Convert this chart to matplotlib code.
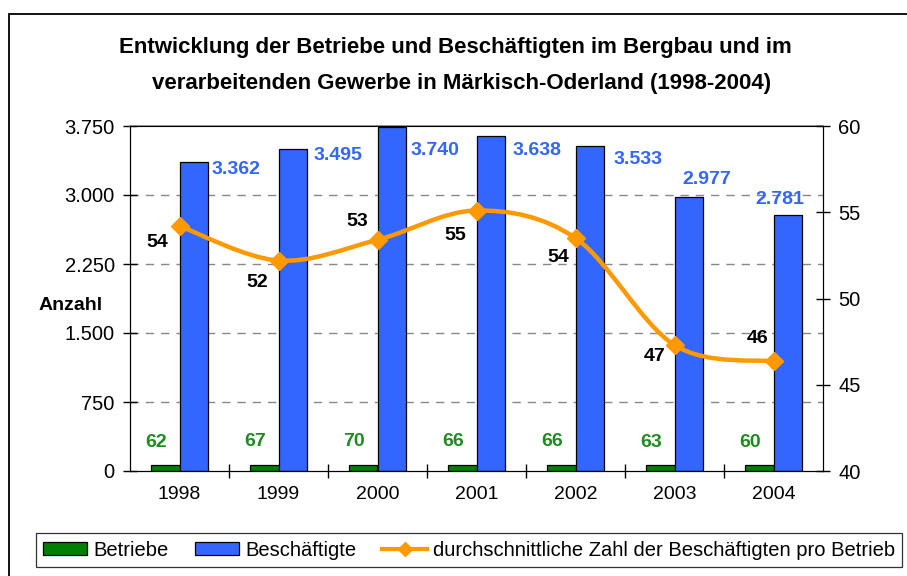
import matplotlib.pyplot as plt
from matplotlib.path import Path
from matplotlib.patches import PathPatch, Rectangle
from matplotlib.lines import Line2D
from matplotlib.ticker import FuncFormatter

years = ["1998", "1999", "2000", "2001", "2002", "2003", "2004"]
betriebe = [62, 67, 70, 66, 66, 63, 60]
beschaeftigte = [3362, 3495, 3740, 3638, 3533, 2977, 2781]
schnitt = [54.2, 52.2, 53.4, 55.1, 53.5, 47.3, 46.35]
schnitt_labels = ["54", "52", "53", "55", "54", "47", "46"]

# label offsets in pixels (layout only)
blue_off = [(28, -8), (31, -6), (29, -24), (32, -14), (34, -14), (4, 18), (-22, 16)]
black_off = [(-22, -16), (-21, -22), (-20, 18), (-21, -25), (-17, -19), (-20, -11), (-16, 23)]

plt.rcParams["font.family"] = ["Liberation Sans", "DejaVu Sans"]
BLUE = "#3366FF"
GREEN = "#008000"
ORANGE = "#FF9900"

fig = plt.figure(figsize=(9.07, 5.76), dpi=100)
fig.patches.append(Rectangle((9 / 907, -0.1), 1.2, 1.1 - 14 / 576, transform=fig.transFigure,
                             fill=False, edgecolor="black", linewidth=1.3))

ax = fig.add_axes([130 / 907, 1 - 471 / 576, 693 / 907, 345 / 576])
x = list(range(len(years)))
w = 0.29
ax.bar([i - w / 2 for i in x], betriebe, width=w, color=GREEN, edgecolor="black", linewidth=0.9, zorder=2)
ax.bar([i + w / 2 for i in x], beschaeftigte, width=w, color=BLUE, edgecolor="black", linewidth=0.9, zorder=2)
ax.set_xlim(-0.5, len(years) - 0.5)
ax.set_ylim(0, 3750)
ax.set_yticks([0, 750, 1500, 2250, 3000, 3750])
ax.yaxis.set_major_formatter(FuncFormatter(lambda v, p: f"{int(v):,}".replace(",", ".")))
ax.set_xticks([i + 0.5 for i in x[:-1]], minor=False)
ax.set_xticklabels([])
ax.set_xticks(x, years, minor=True)
ax.tick_params(axis="x", which="minor", length=0, labelsize=14, pad=11)
ax.tick_params(axis="x", which="major", direction="inout", length=10, width=1)
ax.tick_params(axis="y", direction="inout", length=10, width=1, labelsize=14.5, pad=6)
for v in [750, 1500, 2250, 3000]:
    ax.axhline(v, color="#888888", linestyle=(0, (6, 5)), linewidth=1, zorder=0)
ax.spines["top"].set_color("#888888")
ax.spines["top"].set_linewidth(1.2)
ax.text(-0.039, 0.48, "Anzahl", transform=ax.transAxes, ha="right", va="center",
        fontsize=14, fontweight="bold")

for i, v in enumerate(betriebe):
    ax.annotate(str(v), (i - w / 2, v), xytext=(-9, 23), textcoords="offset pixels",
                ha="center", va="center", color="#1E8C1E", fontsize=14, fontweight="bold")
for i, v in enumerate(beschaeftigte):
    ax.annotate(f"{v:,}".replace(",", "."), (i + w, v), xytext=blue_off[i],
                textcoords="offset pixels", ha="center", va="center",
                color=BLUE, fontsize=14, fontweight="bold")

ax2 = ax.twinx()
ax2.set_ylim(40, 60)
ax2.set_yticks([40, 45, 50, 55, 60])
ax2.tick_params(axis="y", direction="inout", length=10, width=1, labelsize=14.5, pad=6)

# smoothed line (Catmull-Rom as Bezier), through the data points
pts = list(zip(x, schnitt))
verts = [pts[0]]
codes = [Path.MOVETO]
n = len(pts)
for i in range(n - 1):
    p0 = pts[i - 1] if i > 0 else pts[i]
    p1, p2 = pts[i], pts[i + 1]
    p3 = pts[i + 2] if i + 2 < n else pts[i + 1]
    c1 = (p1[0] + (p2[0] - p0[0]) / 6, p1[1] + (p2[1] - p0[1]) / 6)
    c2 = (p2[0] - (p3[0] - p1[0]) / 6, p2[1] - (p3[1] - p1[1]) / 6)
    verts += [c1, c2, p2]
    codes += [Path.CURVE4] * 3
ax2.add_patch(PathPatch(Path(verts, codes), fill=False, edgecolor=ORANGE, linewidth=3.2,
                        capstyle="round", zorder=3))
ax2.plot(x, schnitt, linestyle="none", marker="D", markersize=9, color=ORANGE, zorder=4)
for i, v in enumerate(schnitt):
    ax2.annotate(schnitt_labels[i], (i, v), xytext=black_off[i], textcoords="offset pixels",
                 ha="center", va="center", color="black", fontsize=14, fontweight="bold")

fig.text(455 / 907, 1 - 48 / 576,
         "Entwicklung der Betriebe und Beschäftigten im Bergbau und im",
         ha="center", va="center", fontsize=16, fontweight="bold")
fig.text(462 / 907, 1 - 84 / 576,
         "verarbeitenden Gewerbe in Märkisch-Oderland (1998-2004)",
         ha="center", va="center", fontsize=16, fontweight="bold")

handles = [
    Rectangle((0, 0), 1, 1, facecolor=GREEN, edgecolor="black", linewidth=0.9),
    Rectangle((0, 0), 1, 1, facecolor=BLUE, edgecolor="black", linewidth=0.9),
    Line2D([], [], color=ORANGE, linewidth=3, marker="D", markersize=7),
]
leg = fig.legend(handles, ["Betriebe", "Beschäftigte", "durchschnittliche Zahl der Beschäftigten pro Betrieb"],
                 loc="center", bbox_to_anchor=(469 / 907, 1 - 550 / 576), ncol=3, fontsize=14.5,
                 frameon=True, fancybox=False, edgecolor="black", handlelength=2.2,
                 handleheight=0.65, handletextpad=0.3, columnspacing=1.3, borderpad=0.35,
                 borderaxespad=0)
leg.get_frame().set_linewidth(0.9)

fig.savefig("out.png", dpi=100)
